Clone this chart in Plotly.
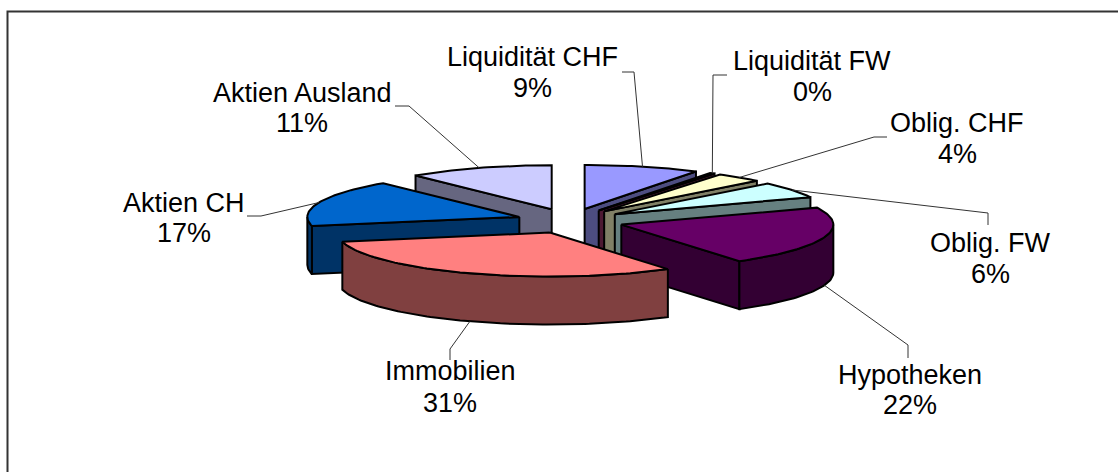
import math
import plotly.graph_objects as go

# Data (shares in percent, clockwise from 12 o'clock)
names = ["Liquidität CHF", "Liquidität FW", "Oblig. CHF", "Oblig. FW",
         "Hypotheken", "Immobilien", "Aktien CH", "Aktien Ausland"]
values = [8.8, 0.4, 3.6, 5.9, 21.9, 31.1, 17.2, 11.1]

top_colors = ["#9999FF", "#993366", "#FFFFCC", "#CCFFFF",
              "#660066", "#FF8080", "#0066CC", "#CCCCFF"]
side_colors = ["#4D4D80", "#4D1A33", "#808066", "#668080",
               "#330033", "#804040", "#003366", "#666680"]

# Pie projection (pixels of the page)
CX, CY = 570.0, 221.0     # pie centre
RX, RY = 212.0, 44.0      # top-face ellipse radii
EX, EY = 53.6, 12.5       # explosion offset
DEPTH = 48.0              # extrusion height

# Label placement: (x, name y, percent y) and leader polyline after the rim point
label_pos = [(532, 57, 88), (812, 61, 92), (957, 123, 154), (990, 243, 274),
             (910, 375, 405), (450, 371, 403), (184, 203, 233), (302, 93, 123)]
leader_tail = [[(634, 72), (622, 72)], [(713, 75), (727, 75)],
               [(874, 137), (887, 137)], [(988, 213), (988, 225)],
               [(908, 345), (908, 358)], [(450, 349), (450, 360)],
               [(261, 216), (247, 216)], [(409, 106), (395, 106)]]
leader_front = [False, False, False, False, True, True, False, False]

total = sum(values)
slices = []
cum = 0.0
for v in values:
    a0 = cum / total * 2 * math.pi
    cum += v
    a1 = cum / total * 2 * math.pi
    mid = (a0 + a1) / 2
    slices.append(dict(a0=a0, a1=a1, mid=mid,
                       ax=CX + EX * math.sin(mid), ay=CY - EY * math.cos(mid)))


def rim(s, t, dz=0.0):
    return (s["ax"] + RX * math.sin(t), s["ay"] - RY * math.cos(t) + dz)


def arc(s, t0, t1, dz=0.0):
    n = max(2, int(abs(t1 - t0) / 0.02))
    return [rim(s, t0 + (t1 - t0) * i / n, dz) for i in range(n + 1)]


fig = go.Figure()


def poly(points, fill, width=2.0):
    pts = list(points) + [points[0]]
    fig.add_trace(go.Scatter(x=[p[0] for p in pts], y=[p[1] for p in pts],
                             mode="lines", fill="toself", fillcolor=fill,
                             line=dict(color="#000000", width=width),
                             hoverinfo="skip", showlegend=False))


def line(points, color="#333333", width=1.0):
    fig.add_trace(go.Scatter(x=[p[0] for p in points], y=[p[1] for p in points],
                             mode="lines", line=dict(color=color, width=width),
                             hoverinfo="skip", showlegend=False))


def draw_slice(i):
    s = slices[i]
    apex = (s["ax"], s["ay"])
    apex_low = (s["ax"], s["ay"] + DEPTH)
    dark = side_colors[i]
    # radial cut faces that look toward the viewer
    if math.sin(s["a0"]) < -1e-9:
        poly([apex, rim(s, s["a0"]), rim(s, s["a0"], DEPTH), apex_low], dark)
    if math.sin(s["a1"]) > 1e-9:
        poly([apex, rim(s, s["a1"]), rim(s, s["a1"], DEPTH), apex_low], dark)
    # outer wall, front half of the ellipse only
    lo = max(s["a0"], math.pi / 2)
    hi = min(s["a1"], 3 * math.pi / 2)
    if hi > lo:
        poly(arc(s, lo, hi) + arc(s, hi, lo, DEPTH), dark)
    # top face
    poly([apex] + arc(s, s["a0"], s["a1"]), top_colors[i])


# back-to-front painting order
for i in [7, 0, 1, 2, 3, 6, 4, 5]:
    draw_slice(i)

# leader lines
for i, s in enumerate(slices):
    start = rim(s, s["mid"], DEPTH if leader_front[i] else 0.0)
    line([start] + leader_tail[i])

# frame (top and left edges only)
line([(7.5, 472), (7.5, 11.5), (1118, 11.5)], color="#333333", width=2)

# labels
font = dict(family="Liberation Sans, Arial, sans-serif", size=27, color="#000000")
for name, v, (lx, ly1, ly2) in zip(names, values, label_pos):
    fig.add_annotation(x=lx, y=ly1, text=name, showarrow=False, font=font,
                       xanchor="center", yanchor="middle")
    fig.add_annotation(x=lx, y=ly2, text=f"{round(v)}%", showarrow=False, font=font,
                       xanchor="center", yanchor="middle")

fig.update_xaxes(range=[0, 1118], visible=False, fixedrange=True)
fig.update_yaxes(range=[472, 0], visible=False, fixedrange=True)
fig.update_layout(width=1118, height=472, margin=dict(l=0, r=0, t=0, b=0),
                  paper_bgcolor="#FFFFFF", plot_bgcolor="#FFFFFF")
fig.write_html("out.html", config={"displayModeBar": False},
               post_script="document.body.style.margin='0';document.body.style.overflow='hidden';")
